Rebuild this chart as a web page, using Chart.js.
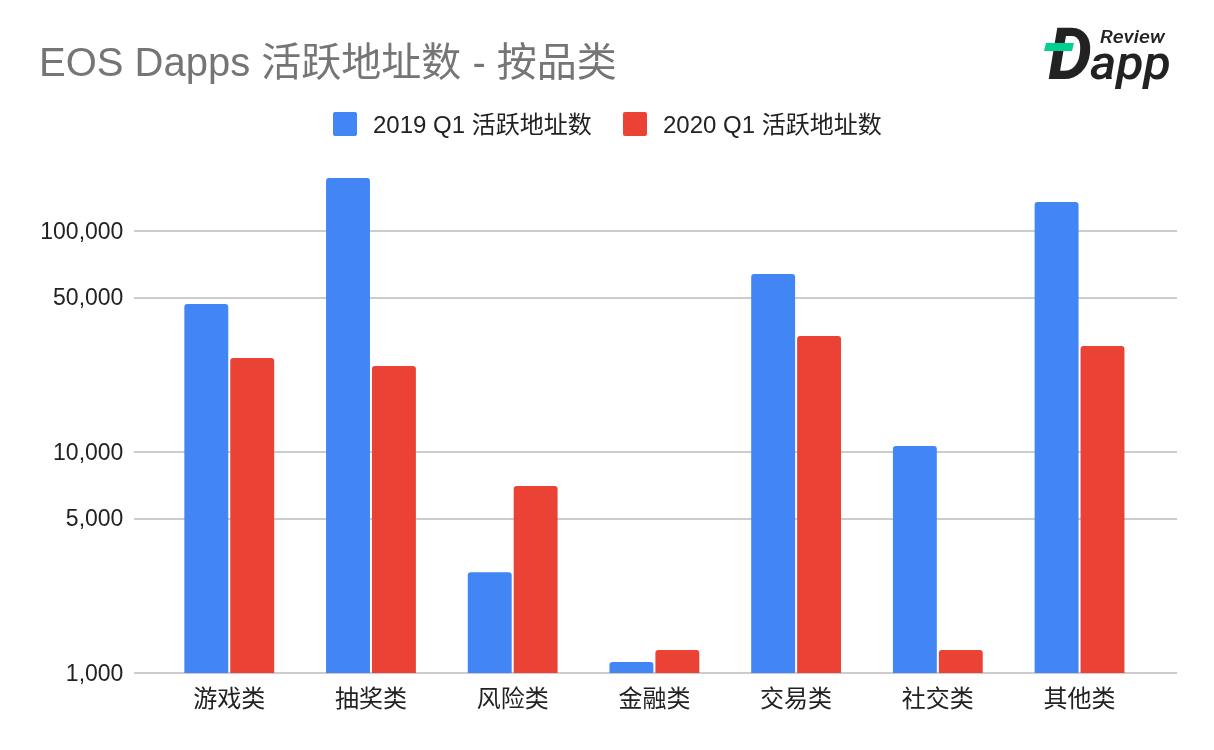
<!DOCTYPE html>
<html lang="zh">
<head>
    <meta charset="UTF-8">
    <title>EOS Dapps 活跃地址数 - 按品类</title>
    <script src="https://cdn.jsdelivr.net/npm/chart.js"></script>
    <style>
        body { margin: 0; background: #fff; font-family: "Liberation Sans", "Noto Sans CJK SC", sans-serif; }
        #wrap { position: relative; width: 1214px; height: 750px; overflow: hidden; }
        canvas { position: absolute; left: 0; top: 0; }
        #logo { position: absolute; left: 1030px; top: 15px; }
        .legend-item { position: absolute; top: 112px; height: 26px; line-height: 26px; font-size: 24px; color: #222; white-space: nowrap; }
        .legend-box { position: absolute; top: 0; left: 0; width: 24px; height: 24px; border-radius: 2px; }
        .legend-item span { position: absolute; left: 40px; top: 0; }
    </style>
</head>
<body>
<div id="wrap">
    <canvas id="chart" width="1214" height="750"></canvas>
    <div id="legend"></div>
    <svg id="logo" width="160" height="85" viewBox="0 0 160 85">
        <text x="18" y="64" font-family="Roboto" font-weight="700" font-style="italic" font-size="72" fill="#222" textLength="44" lengthAdjust="spacingAndGlyphs">D</text>
        <text x="60" y="64" font-family="Roboto" font-weight="500" font-style="italic" font-size="48" fill="#222" textLength="81" lengthAdjust="spacingAndGlyphs">app</text>
        <text x="70" y="28" font-family="Roboto" font-weight="500" font-style="italic" font-size="19" fill="#222" textLength="65" lengthAdjust="spacingAndGlyphs">Review</text>
        <polygon points="16,28 44,28 42,36 14,36" fill="#00d08f"/>
    </svg>
</div>
<script>
    const titleText = 'EOS Dapps 活跃地址数 - 按品类';
    const categories = ['游戏类', '抽奖类', '风险类', '金融类', '交易类', '社交类', '其他类'];
    const seriesNames = ['2019 Q1 活跃地址数', '2020 Q1 活跃地址数'];
    const values2019 = [46800, 173700, 2860, 1120, 63900, 10640, 135300];
    const values2020 = [26600, 24500, 7020, 1270, 33500, 1270, 30200];
    const tickValues = [1000, 5000, 10000, 50000, 100000];
    const colors = ['#4285f4', '#ea4335'];

    const fontFamily = '"Liberation Sans", "Noto Sans CJK SC", sans-serif';

    // legend is html, the spacing of the built-in one is too tight
    const legendLeft = [333, 623];
    seriesNames.forEach((name, i) => {
        const item = document.createElement('div');
        item.className = 'legend-item';
        item.style.left = legendLeft[i] + 'px';
        item.innerHTML = '<div class="legend-box" style="background:' + colors[i] + '"></div><span>' + name + '</span>';
        document.getElementById('legend').appendChild(item);
    });

    // grid runs wider than the category band
    const wideGrid = {
        id: 'wideGrid',
        beforeDatasetsDraw(chart) {
            const c = chart.ctx;
            const y = chart.scales.y;
            c.save();
            c.strokeStyle = '#cccccc';
            c.lineWidth = 2;
            tickValues.forEach(v => {
                const py = Math.round(y.getPixelForValue(v));
                c.beginPath();
                c.moveTo(134, py);
                c.lineTo(1177, py);
                c.stroke();
            });
            c.restore();
        }
    };

    new Chart(document.getElementById('chart').getContext('2d'), {
        type: 'bar',
        data: {
            labels: categories,
            datasets: [
                { label: seriesNames[0], data: values2019, backgroundColor: colors[0] },
                { label: seriesNames[1], data: values2020, backgroundColor: colors[1] }
            ]
        },
        options: {
            responsive: false,
            animation: false,
            devicePixelRatio: 1,
            layout: { padding: { left: 39, right: 63.6, top: 0, bottom: 0 } },
            datasets: {
                bar: {
                    categoryPercentage: 0.648,
                    barPercentage: 0.9565,
                    borderRadius: { topLeft: 3, topRight: 3, bottomLeft: 0, bottomRight: 0 },
                    borderSkipped: false
                }
            },
            plugins: {
                legend: { display: false },
                tooltip: { enabled: false },
                title: {
                    display: true,
                    text: titleText,
                    align: 'start',
                    color: '#757575',
                    font: { family: fontFamily, size: 40, weight: 'normal' },
                    padding: { top: 41, bottom: 71 }
                }
            },
            scales: {
                x: {
                    grid: { display: false, tickLength: 0 },
                    border: { display: false },
                    afterFit(scale) { scale.height = 77; },
                    ticks: { color: '#222', font: { family: fontFamily, size: 24 }, padding: 13, maxRotation: 0 }
                },
                y: {
                    type: 'logarithmic',
                    min: 1000,
                    max: 209600,
                    grid: { display: false, tickLength: 0 },
                    border: { display: false },
                    afterFit(scale) { scale.width = 119.4; },
                    afterBuildTicks(scale) {
                        scale.ticks = tickValues.map(v => ({ value: v }));
                    },
                    ticks: {
                        color: '#222',
                        font: { family: fontFamily, size: 23 },
                        padding: 35,
                        labelOffset: 1.5,
                        callback: v => v.toLocaleString('en-US')
                    }
                }
            }
        },
        plugins: [wideGrid]
    });
</script>
</body>
</html>
